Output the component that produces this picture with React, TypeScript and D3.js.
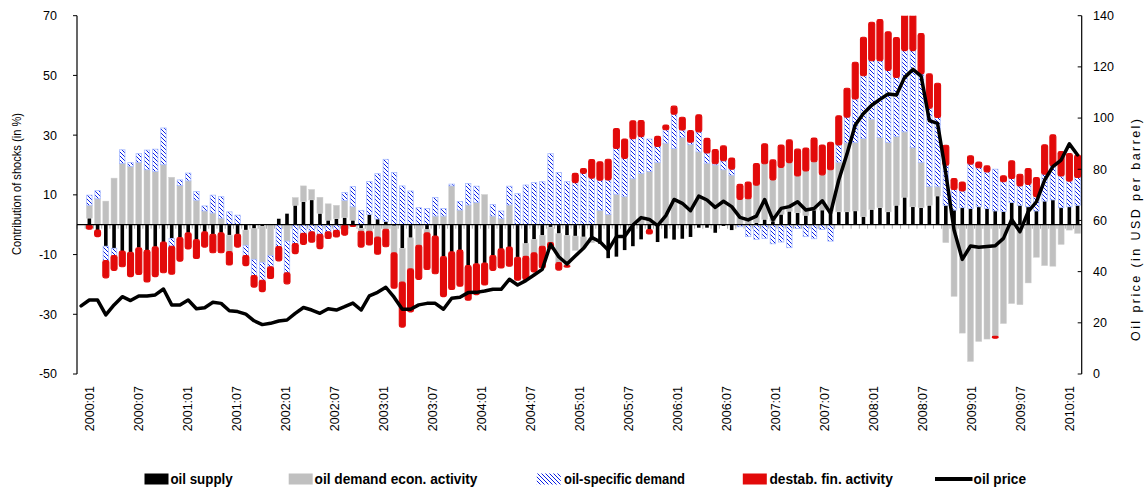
import React from 'react';
import * as d3 from 'd3';

// ---------- DATA ----------
// Monthly categories 2000:01 .. 2010:02 (122 months); the shock contributions start in 2000:02
const MONTHS: string[] = (() => {
  const out: string[] = [];
  for (let yr = 2000; yr <= 2010; yr++) {
    for (let m = 1; m <= 12; m++) out.push(`${yr}:${String(m).padStart(2, '0')}`);
  }
  return out.slice(0, 122);
})();
const BAR_MONTHS = MONTHS.slice(1);

const X_TICK_LABELS = [
  '2000:01', '2000:07', '2001:01', '2001:07', '2002:01', '2002:07', '2003:01', '2003:07',
  '2004:01', '2004:07', '2005:01', '2005:07', '2006:01', '2006:07', '2007:01', '2007:07',
  '2008:01', '2008:07', '2009:01', '2009:07', '2010:01',
];
const LEFT_TICKS = [70, 50, 30, 10, -10, -30, -50];
const RIGHT_TICKS = [140, 120, 100, 80, 60, 40, 20, 0];

// contributions (in %), 2000:02 .. 2010:02
const SUPPLY = [
  2.2, -1.8, -7.2, -7.9, -8.8, -9.2, -7.7, -8.6, -7.4, -5.8, -4.6, -4.3, -2.7, -5.0, -2.4, -3.2, -2.7, -3.5, -3.2, -1.8,
  -1.3, -0.5, 0, 2.0, 3.7, 6.5, 7.7, 8.3, 3.8, 1.5, 2.0, 2.4, 1.5, -1.2, 3.4, 1.9, 1.1, -0.4, -7.9, -4.4,
  0, -1.6, -3.8, -10.7, -9.1, -8.5, -13.7, -13.1, -12.8, -10.3, -8.1, -7.5, -10.9, -6.3, -4.9, -3.6, -0.8, -3.0, -3.6, -3.8,
  -4.1, -4.7, -6.4, -11.2, -10.7, -8.5, -7.2, -4.9, -1.6, -5.8, -4.6, -5.0, -4.7, -4.1, -1.0, -1.0, -2.7, -0.4, -1.8, 0,
  0, 0.7, 1.8, 1.2, 3.5, 4.5, 4.0, 3.1, 4.9, 4.9, 4.4, 4.3, 4.3, 4.6, 2.7, 5.1, 5.7, 4.3, 6.5, 9.2,
  6.0, 5.7, 6.5, 9.6, 6.5, 4.9, 5.7, 5.4, 6.0, 5.4, 4.6, 4.4, 7.4, 6.5, 6.0, 4.6, 7.9, 8.3, 5.7, 6.0,
  6.5,
];
const DEMAND = [
  4.3, 8.7, 7.9, 15.6, 20.5, 19.5, 20.8, 18.4, 17.8, 20.1, 15.9, 13.1, 14.7, 8.2, 4.6, 3.9, 2.2, -5.5, 0, -5.1,
  -10.3, -12.1, -10.3, 0, -5.5, 2.6, 5.3, 3.5, 5.4, 5.5, 4.5, 5.7, 4.5, -1.0, -2.2, -4.1, -1.5, -9.0, -11.3, -10.4,
  -6.9, -1.1, 2.9, 2.9, 13.0, 4.9, 6.6, 7.4, 10.1, 2.9, 2.0, 6.6, 0, -4.3, -4.5, -3.6, -5.2, -9.7, -10.1, -4.8,
  -3.6, -1.3, 4.8, 3.4, 10.2, 9.4, 15.4, 17.1, 17.8, 20.8, 27.3, 25.5, 29.2, 26.8, 24.4, 20.6, 20.0, 18.4, 16.6, 8.5,
  8.7, 12.5, 18.6, 13.8, 15.7, 16.3, 12.3, 14.9, 16.2, 11.8, 14.0, 16.6, 23.1, 22.9, 26.2, 30.2, 23.5, 23.3, 23.0, 21.9,
  19.8, 15.1, 6.3, 3.1, -6.0, -24.0, -36.3, -45.8, -39.1, -38.3, -37.4, -33.1, -26.4, -26.8, -19.5, -10.9, -13.7, -13.9, -6.6, -1.8,
  -2.9,
];
const SPECIFIC = [
  3.4, 2.7, -4.8, -2.4, 4.6, 1.3, 3.0, 6.6, 7.5, 12.3, -2.6, 1.9, 2.6, 2.9, 1.7, 6.0, 7.2, 4.3, 3.2, -3.4,
  -5.4, -6.0, -3.8, -7.3, -10.6, -6.3, -2.9, -2.4, -3.2, -2.4, -1.9, 2.7, 6.8, 4.8, 11.1, 15.2, 20.8, 17.5, 13.0, 11.3,
  5.7, 5.4, 6.2, 2.5, 0.6, 2.9, 7.2, 5.5, 0, 3.9, 2.6, 6.3, 10.4, 13.3, 14.1, 14.4, 23.8, 17.5, 14.4, 14.1,
  17.2, 15.6, 10.1, 11.6, 15.3, 12.8, 13.4, 12.4, 10.9, 5.4, 4.5, 11.5, 2.5, 0.8, 6.7, 3.4, 0.4, 3.0, 2.0, -0.7,
  -4.0, -4.9, -4.6, -6.4, -5.8, -7.7, -1.3, -4.0, -4.7, -1.6, -5.5, 5.8, 8.6, 14.6, 21.0, 19.6, 25.7, 24.1, 19.8, 27.2,
  32.5, 29.7, 26.2, 23.2, 13.4, 6.9, 5.6, 14.9, 13.1, 12.3, 14.0, 10.0, 8.1, 6.5, 7.5, 4.8, 9.0, 11.4, 10.6, 8.6,
  9.3,
];
const FIN = [
  -1.5, -2.2, -5.8, -5.0, -5.3, -8.2, -9.0, -10.6, -10.0, -10.3, -9.4, -7.9, -5.4, -6.3, -5.1, -6.2, -6.7, -4.5, -4.3, -3.4,
  -3.9, -3.8, -3.9, -4.8, -3.7, -3.4, -3.7, -3.5, -4.8, -2.2, -2.2, -3.5, -0.6, -5.3, -4.6, -5.8, -5.9, -11.9, -15.1, -14.4,
  -11.4, -12.3, -12.6, -13.4, -12.6, -12.1, -11.6, -10.3, -7.4, -5.0, -6.4, -6.4, -7.7, -7.8, -6.4, -7.3, -2.0, -2.5, -0.5, 3.1,
  1.6, 6.2, 6.2, 6.9, 6.7, 6.5, 6.0, 5.4, -1.5, 3.4, 1.6, 2.7, 4.3, 3.9, 5.7, 4.9, 4.8, 5.0, 3.7, 5.0,
  5.6, 7.3, 6.7, 6.7, 7.5, 7.6, 9.0, 7.7, 7.9, 10.0, 9.2, 9.8, 9.7, 12.3, 12.9, 12.9, 13.8, 12.9, 13.4, 12.6,
  12.6, 13.5, 11.5, 11.5, 6.7, 3.7, 3.0, 2.8, 1.9, 2.0, -0.6, 2.0, 5.9, 3.9, 5.3, 6.4, 9.9, 10.4, 8.2, 9.2,
  7.5,
];
// oil price (USD per barrel), 2000:01 .. 2010:02
const PRICE = [
  26.6, 28.9, 28.9, 23.1, 27.0, 30.2, 28.7, 30.5, 30.5, 30.9, 33.2, 27.0, 27.0, 28.9, 25.5, 25.9, 28.0, 27.6, 24.7, 24.4,
  23.4, 20.8, 19.3, 19.8, 20.7, 21.1, 23.7, 26.0, 25.0, 23.7, 25.5, 25.0, 26.3, 27.7, 25.0, 30.5, 31.9, 33.9, 30.0, 25.3,
  25.3, 27.0, 27.6, 27.6, 25.3, 29.6, 30.0, 31.8, 31.9, 32.4, 33.1, 33.1, 37.0, 34.8, 36.5, 38.7, 40.9, 50.7, 45.8, 43.0,
  46.1, 49.1, 53.4, 51.7, 48.4, 53.7, 53.7, 58.2, 61.1, 60.4, 58.0, 61.9, 68.2, 66.7, 63.8, 69.5, 68.0, 65.1, 67.5, 65.4,
  61.2, 60.2, 61.7, 68.2, 60.2, 64.7, 65.4, 67.3, 64.1, 64.7, 67.7, 62.8, 75.8, 86.0, 97.3, 101.8, 105.0, 107.3, 109.4, 109.0,
  115.9, 119.0, 116.4, 99.0, 97.9, 78.4, 56.3, 44.8, 50.0, 49.5, 49.8, 50.1, 53.0, 60.4, 55.6, 63.4, 67.3, 75.8, 81.0, 83.6,
  89.9, 85.6,
];

const KEYS = ['supply', 'demand', 'specific', 'fin'] as const;
const LEGEND_LABELS = ['oil supply', 'oil demand econ. activity', 'oil-specific demand', 'destab. fin. activity', 'oil price'];

// ---------- STYLE ----------
const FONT = '"Liberation Sans", Arial, sans-serif';
const LEG_FONT = '"Liberation Sans Narrow", "Liberation Sans", Arial, sans-serif';
const RED = '#e20a0a';
const GRAY = '#c0c0c0';

export default function App() {
  const W = 1148, H = 491;
  const left = 77, right = 1081.7, top = 15.7, bottom = 374;

  const x = d3.scaleBand<string>().domain(MONTHS).range([left, right]).padding(0);
  const bw = x.bandwidth();
  const cx = (m: string) => (x(m) as number) + bw / 2;
  const y = d3.scaleLinear().domain([-50, 70]).range([bottom, top]);
  const yR = d3.scaleLinear().domain([0, 140]).range([bottom, top]);
  // label axis (labels sit slightly inside the band grid in the original)
  const xLab = d3.scalePoint<string>().domain(X_TICK_LABELS).range([cx(MONTHS[1]), cx(MONTHS[120])]);

  const rows = BAR_MONTHS.map((m, i) => ({
    month: m, supply: SUPPLY[i], demand: DEMAND[i], specific: SPECIFIC[i], fin: FIN[i],
  }));
  const series = d3.stack<any>().keys(KEYS as any).offset(d3.stackOffsetDiverging)(rows);

  const priceLine = d3.line<number>()
    .x((_, i) => cx(MONTHS[i]))
    .y((d) => yR(d))
    .curve(d3.curveLinear)(PRICE) as string;

  const widths: Record<string, number> = { supply: 3.6, demand: 6, specific: 6, fin: 6 };
  const y0 = y(0);

  const legendSw = [144.5, 288.7, 536.8, 742.8];
  const legendTx = [170.4, 314.6, 564, 769.4, 973.6];
  const legendTw = [62.3, 162.8, 121, 123.4, 52.4];
  const legY = 479;

  return (
    <svg width={W} height={H} style={{ position: 'absolute', left: 0, top: 0, background: '#fff' }}
      fontFamily={FONT}>
      <defs>
        <pattern id="hatch" patternUnits="userSpaceOnUse" width="4" height="4">
          <rect width="4" height="4" fill="#ffffff" />
          <path d="M0,0 L4,4 M-1,3 L1,5 M3,-1 L5,1" stroke="#0a1fe4" strokeWidth="1" />
        </pattern>
        <clipPath id="plot">
          <rect x={left} y={top} width={right - left} height={bottom - top} />
        </clipPath>
      </defs>

      {/* bars */}
      <g clipPath="url(#plot)">
        {series.map((s) => {
          const key = s.key as string;
          const w = widths[key];
          return (
            <g key={key}>
              {s.map((d, i) => {
                const a = y(d[0]), b = y(d[1]);
                const yy = Math.min(a, b), hh = Math.abs(a - b);
                if (hh < 0.01) return null;
                const xx = cx(BAR_MONTHS[i]) - w / 2;
                if (key === 'supply')
                  return <rect key={i} x={xx} y={yy} width={w} height={hh} fill="#000" />;
                if (key === 'demand')
                  return <rect key={i} x={xx} y={yy} width={w} height={hh} fill={GRAY} stroke="#cfcfcf" strokeWidth={0.5} />;
                if (key === 'specific')
                  return <rect key={i} x={xx + 0.3} y={yy} width={w - 0.6} height={hh} fill="url(#hatch)" stroke="#a9bcff" strokeWidth={0.8} />;
                return <rect key={i} x={xx} y={yy} width={w} height={hh} rx={1.8} fill={RED} stroke={RED} strokeWidth={1.1} />;
              })}
            </g>
          );
        })}
      </g>

      {/* category ticks on the zero line */}
      <g stroke="#a8a8a8" strokeWidth={1}>
        {MONTHS.map((m) => (
          <line key={m} x1={x(m) as number} x2={x(m) as number} y1={y0} y2={y0 + 4} />
        ))}
      </g>
      {/* zero line */}
      <line x1={left} x2={right} y1={y0} y2={y0} stroke="#000" strokeWidth={1.3} />

      {/* price line */}
      <path d={priceLine} fill="none" stroke="#000" strokeWidth={3.5} strokeLinejoin="round" strokeLinecap="round" />

      {/* left axis */}
      <line x1={left} x2={left} y1={top} y2={bottom} stroke="#000" strokeWidth={1.2} />
      {LEFT_TICKS.map((t) => (
        <g key={t}>
          <line x1={left - 4} x2={left} y1={y(t)} y2={y(t)} stroke="#000" />
          <text x={57} y={y(t)} dy="0.35em" textAnchor="end" fontSize={12.5}>{t}</text>
        </g>
      ))}
      <text transform={`translate(17,184) rotate(-90)`} textAnchor="middle" dy="0.35em" fontSize={12}
        textLength={142} lengthAdjust="spacingAndGlyphs">Contribution of shocks (in %)</text>

      {/* right axis */}
      <line x1={right} x2={right} y1={top} y2={bottom} stroke="#000" strokeWidth={1.2} />
      {RIGHT_TICKS.map((t) => (
        <g key={t}>
          <line x1={right - 4} x2={right} y1={yR(t)} y2={yR(t)} stroke="#000" />
          <text x={1093} y={yR(t)} dy="0.35em" textAnchor="start" fontSize={12.5}>{t}</text>
        </g>
      ))}
      <text transform={`translate(1136,230) rotate(-90)`} textAnchor="middle" dy="0.35em" fontSize={12.5}
        textLength={222} lengthAdjust="spacing">Oil price (in USD per barrel)</text>

      {/* x labels */}
      {X_TICK_LABELS.map((lab) => (
        <text key={lab} transform={`translate(${xLab(lab)},386) rotate(-90)`} textAnchor="end" dy="0.35em"
          fontSize={12.5}>{lab}</text>
      ))}

      {/* legend */}
      <rect x={legendSw[0]} y={legY - 5.5} width={24} height={11} fill="#000" />
      <rect x={legendSw[1]} y={legY - 5.5} width={24} height={11} fill={GRAY} />
      <rect x={legendSw[2]} y={legY - 5.5} width={24} height={11} fill="url(#hatch)" />
      <rect x={legendSw[3]} y={legY - 5.5} width={24} height={11} fill={RED} />
      <line x1={935} x2={972.5} y1={legY} y2={legY} stroke="#000" strokeWidth={4} />
      {LEGEND_LABELS.map((lab, i) => (
        <text key={lab} x={legendTx[i]} y={legY} dy="0.35em" fontFamily={LEG_FONT} fontWeight="bold" fontSize={14}
          textLength={legendTw[i]} lengthAdjust="spacingAndGlyphs">{lab}</text>
      ))}
    </svg>
  );
}
